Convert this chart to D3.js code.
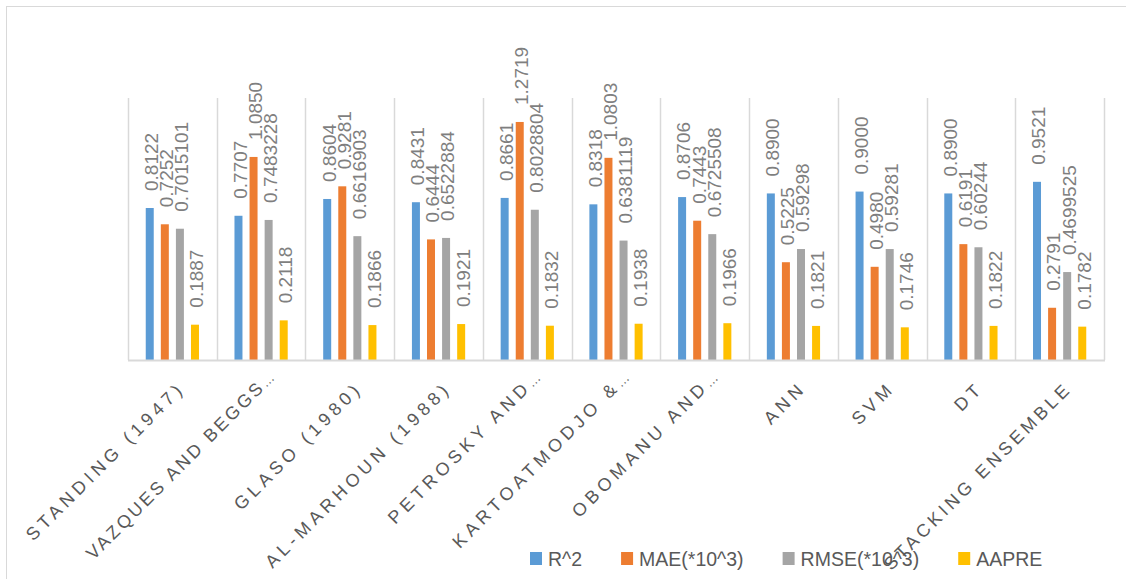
<!DOCTYPE html>
<html>
<head>
<meta charset="utf-8">
<script src="https://cdn.jsdelivr.net/npm/d3@7"></script>
<style>
  html, body { margin: 0; padding: 0; background: #fff; }
  svg { display: block; font-family: "Liberation Sans", Arial, sans-serif; }
</style>
</head>
<body>
<svg id="chart" width="1126" height="579"></svg>
<script>
const categories = ["STANDING (1947)", "VAZQUES AND BEGGS…", "GLASO (1980)", "AL-MARHOUN (1988)", "PETROSKY AND…", "KARTOATMODJO &…", "OBOMANU AND…", "ANN", "SVM", "DT", "STACKING ENSEMBLE"];
const seriesNames = ["R^2", "MAE(*10^3)", "RMSE(*10^3)", "AAPRE"];
const r2Values = [0.8122, 0.7707, 0.8604, 0.8431, 0.8661, 0.8318, 0.8706, 0.8900, 0.9000, 0.8900, 0.9521];
const maeValues = [0.7252, 1.0850, 0.9281, 0.6444, 1.2719, 1.0803, 0.7443, 0.5225, 0.4980, 0.6191, 0.2791];
const rmseValues = [0.7015101, 0.7483228, 0.6616903, 0.6522884, 0.8028804, 0.6381119, 0.6725508, 0.59298, 0.59281, 0.60244, 0.4699525];
const aapreValues = [0.1887, 0.2118, 0.1866, 0.1921, 0.1832, 0.1938, 0.1966, 0.1821, 0.1746, 0.1822, 0.1782];
const seriesColors = ["#5B9BD5", "#ED7D31", "#A5A5A5", "#FFC000"];

const seriesValues = [r2Values, maeValues, rmseValues, aapreValues];
const fmt = [v => v.toFixed(4), v => v.toFixed(4), v => String(v), v => v.toFixed(4)];

const svg = d3.select("#chart");
const plot = { left: 128, right: 1104, top: 98, bottom: 360 };

// chart border
svg.append("rect").attr("x", 6.5).attr("y", 6.5).attr("width", 1300).attr("height", 800)
  .attr("fill", "none").attr("stroke", "#D9D9D9").attr("stroke-width", 1);

const x0 = d3.scaleBand().domain(categories).range([plot.left, plot.right])
  .paddingInner(0.4).paddingOuter(0.2);
const x1 = d3.scaleBand().domain(seriesNames).range([0, x0.bandwidth()]).paddingInner(0.47);
const y = d3.scaleLinear().domain([0, 1.4]).range([plot.bottom, plot.top]);

// category separators
const step = x0.step();
const seps = d3.range(categories.length + 1).map(i => plot.left + i * step);
svg.append("g").selectAll("line").data(seps).join("line")
  .attr("x1", d => Math.round(d) + 0.5).attr("x2", d => Math.round(d) + 0.5)
  .attr("y1", plot.top).attr("y2", plot.bottom)
  .attr("stroke", "#D9D9D9").attr("stroke-width", 1.5);

// bars
const groups = svg.append("g").selectAll("g").data(categories).join("g")
  .attr("transform", d => `translate(${x0(d)},0)`);

groups.each(function(cat, ci) {
  const g = d3.select(this);
  seriesNames.forEach((s, si) => {
    const v = seriesValues[si][ci];
    g.append("rect")
      .attr("x", x1(s)).attr("y", y(v))
      .attr("width", x1.bandwidth()).attr("height", y(0) - y(v))
      .attr("fill", seriesColors[si]);
  });
});

// baseline
svg.append("line").attr("x1", plot.left).attr("x2", plot.right + 1)
  .attr("y1", plot.bottom + 0.5).attr("y2", plot.bottom + 0.5)
  .attr("stroke", "#D9D9D9").attr("stroke-width", 2);

// data labels
groups.each(function(cat, ci) {
  const g = d3.select(this);
  seriesNames.forEach((s, si) => {
    const v = seriesValues[si][ci];
    const cx = x1(s) + x1.bandwidth() / 2 + 1.5;
    const ty = y(v) - 17;
    g.append("text")
      .attr("transform", `translate(${cx},${ty}) rotate(-90)`)
      .attr("dy", "0.36em")
      .attr("text-anchor", "start")
      .attr("font-size", "19px")
      .attr("fill", "#7F7F7F")
      .text(fmt[si](v));
  });
});

// category axis labels
const ls = 4.5;
const maxLabelLen = 257;
const catLabels = svg.append("g").selectAll("text").data(categories).join("text")
  .attr("transform", d => {
    const cx = x0(d) + x0.bandwidth() / 2 + 1.5;
    const trunc = d.endsWith("…");
    return `translate(${cx},383) rotate(-45)` + (trunc ? " translate(12,-7)" : "");
  })
  .attr("text-anchor", "end")
  .attr("font-size", "18px")
  .attr("letter-spacing", ls + "px")
  .attr("fill", "#595959");

catLabels.each(function(d) {
  const t = d3.select(this);
  const trunc = d.endsWith("…");
  const main = trunc ? d.slice(0, -1) : d;
  const ts = t.append("tspan").attr("dy", "0.72em").text(main);
  if (trunc) {
    t.append("tspan").attr("font-size", "13px").attr("letter-spacing", "0px").text("…");
  }
  // fit long labels into the space below the axis
  const len = this.getComputedTextLength();
  let lsUsed = ls;
  if (len > maxLabelLen) {
    lsUsed = ls - (len - maxLabelLen) / main.length;
    ts.attr("letter-spacing", lsUsed + "px");
  }
  if (!trunc) ts.attr("dx", lsUsed);
});

// legend
const legend = svg.append("g");
let lx = 530;
seriesNames.forEach((s, i) => {
  legend.append("rect").attr("x", lx).attr("y", 552).attr("width", 12).attr("height", 13)
    .attr("fill", seriesColors[i]);
  const t = legend.append("text").attr("x", lx + 18).attr("y", 565.5)
    .attr("font-size", "19.5px").attr("fill", "#595959").text(s);
  lx += 18 + t.node().getComputedTextLength() + 39;
});
</script>
</body>
</html>
